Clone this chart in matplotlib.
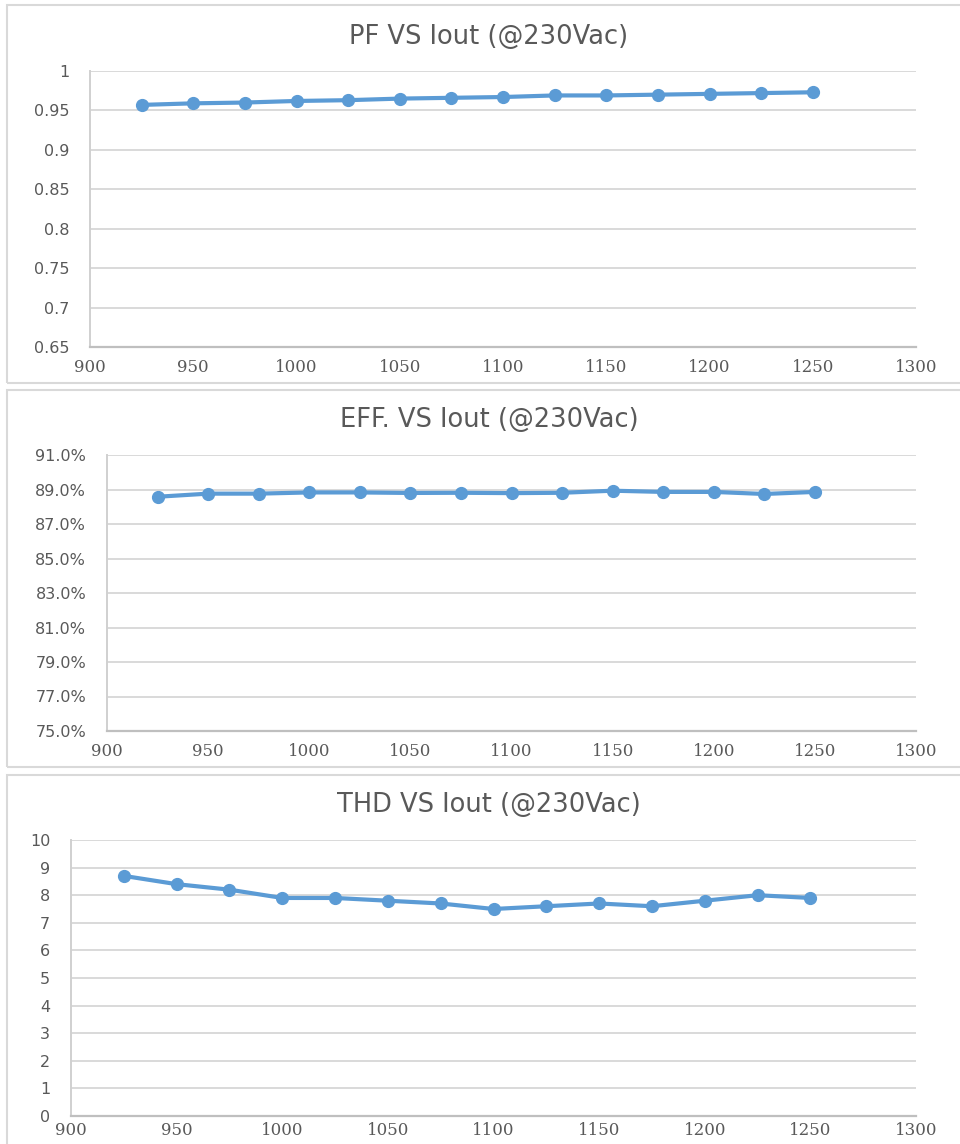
import numpy as np
import matplotlib
matplotlib.use("Agg")
import matplotlib.pyplot as plt
from matplotlib.patches import Rectangle
from matplotlib.ticker import FuncFormatter

# data
iout = [925, 950, 975, 1000, 1025, 1050, 1075, 1100, 1125, 1150, 1175, 1200, 1225, 1250]
pf = [0.957, 0.959, 0.960, 0.962, 0.963, 0.965, 0.966, 0.967, 0.969, 0.969, 0.970, 0.971, 0.972, 0.973]
eff = [0.8858, 0.8876, 0.8876, 0.8883, 0.8883, 0.8880, 0.8881, 0.8879, 0.8881, 0.8893, 0.8886, 0.8886, 0.8874, 0.8886]
thd = [8.7, 8.4, 8.2, 7.9, 7.9, 7.8, 7.7, 7.5, 7.6, 7.7, 7.6, 7.8, 8.0, 7.9]

titles = ["PF VS Iout (@230Vac)", "EFF. VS Iout (@230Vac)", "THD VS Iout (@230Vac)"]
xticks = [900, 950, 1000, 1050, 1100, 1150, 1200, 1250, 1300]
pf_ticks = [0.65, 0.7, 0.75, 0.8, 0.85, 0.9, 0.95, 1.0]
eff_ticks = [0.75, 0.77, 0.79, 0.81, 0.83, 0.85, 0.87, 0.89, 0.91]
thd_ticks = list(range(0, 11))

LINE = "#5B9BD5"
TXT = "#595959"
GRID = "#D9D9D9"

W, H = 960, 1144
fig = plt.figure(figsize=(W / 100, H / 100), dpi=100)


def fx(px):
    return px / W


def fy(py):
    return 1 - py / H


# panel frames (pixels: top, bottom)
frames = [(5, 383), (390, 767), (775, 1150)]
for top, bot in frames:
    fig.patches.append(Rectangle((fx(7), fy(bot)), fx(975) - fx(7), fy(top) - fy(bot),
                                 transform=fig.transFigure, fill=False,
                                 edgecolor="#D9D9D9", linewidth=1.5))

# plot areas (pixels: left, top, bottom)
areas = [(90, 71, 347), (107, 455, 731), (71, 840, 1116)]
right = 916
series = [pf, eff, thd]
yticks = [pf_ticks, eff_ticks, thd_ticks]
fmts = [lambda v, p: "%g" % round(v, 2),
        lambda v, p: "%.1f%%" % (v * 100),
        lambda v, p: "%d" % round(v)]
title_y = [37, 420, 805]
xpads = [9, 9, 4]

for i in range(3):
    l, t, b = areas[i]
    ax = fig.add_axes([fx(l), fy(b), fx(right) - fx(l), fy(t) - fy(b)])
    ax.plot(iout, series[i], color=LINE, linewidth=3, marker="o",
            markersize=8.5, solid_joinstyle="round", zorder=3)
    ax.set_xlim(900, 1300)
    ax.set_ylim(yticks[i][0], yticks[i][-1])
    ax.set_xticks(xticks)
    ax.set_yticks(yticks[i])
    ax.yaxis.set_major_formatter(FuncFormatter(fmts[i]))
    ax.grid(axis="y", color=GRID, linewidth=1.4)
    ax.set_axisbelow(True)
    for s in ["top", "right"]:
        ax.spines[s].set_visible(False)
    ax.spines["left"].set_color("#D0D0D0")
    ax.spines["bottom"].set_color("#BFBFBF")
    ax.spines["left"].set_linewidth(1.4)
    ax.spines["bottom"].set_linewidth(1.6)
    ax.tick_params(axis="x", length=0, pad=xpads[i], colors=TXT)
    ax.tick_params(axis="y", length=0, pad=15, colors=TXT)
    for lab in ax.get_xticklabels():
        lab.set_fontfamily("DejaVu Serif")
        lab.set_fontsize(12)
    for lab in ax.get_yticklabels():
        lab.set_fontfamily("DejaVu Sans")
        lab.set_fontsize(11.5)
    fig.text(fx(489), fy(title_y[i]), titles[i], ha="center", va="center",
             fontsize=18.5, color=TXT, family="DejaVu Sans")

fig.savefig("out.png", dpi=100, facecolor="white")
